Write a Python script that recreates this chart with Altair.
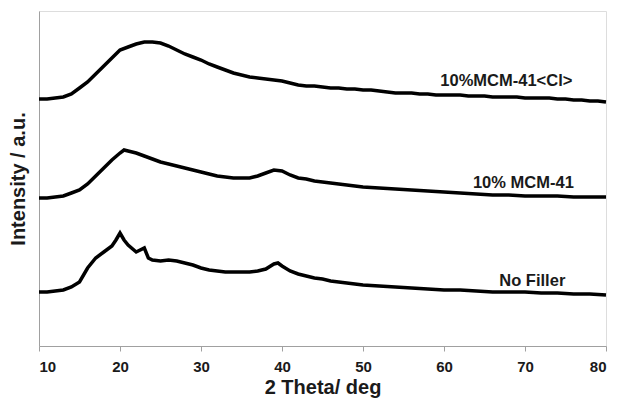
import altair as alt
import pandas as pd

# 10%MCM-41<Cl>
top_x = list(range(10, 81))
top_y = [247, 247, 248, 249, 252, 258, 264, 272, 280, 288, 296, 299, 302, 304, 304, 303, 300, 296, 292, 289,
         286, 282, 279, 276, 273, 271, 269, 268, 267, 266, 265, 263, 261, 260, 260, 259, 258, 258, 257, 257,
         256, 256, 255, 254, 253, 253, 253, 252, 252, 251, 251, 251, 251, 250, 250, 250, 249, 249, 249, 249,
         248, 248, 248, 248, 247, 247, 246, 246, 245, 245, 244]

# 10% MCM-41
mid_x = [10, 11, 12, 13, 14, 15, 16, 17, 18, 19, 20, 20.5, 21, 22, 23, 24, 25, 26, 27, 28, 29, 30, 31, 32, 33,
         34, 35, 36, 37, 38, 39, 40, 41, 42, 43, 44, 45, 46, 47, 48, 49, 50, 52, 54, 56, 58, 60, 62, 64, 66,
         68, 70, 72, 74, 76, 78, 80]
mid_y = [148, 148, 149, 150, 153, 156, 162, 170, 178, 186, 193, 196, 195, 193, 190, 187, 184, 182, 180, 178,
         176, 174, 172, 170, 169, 168, 168, 168, 170, 173, 176, 175, 171, 168, 167, 165, 164, 163, 162, 161,
         160, 159, 158, 157, 156, 155, 154, 153, 152, 151, 151, 150, 150, 150, 149, 149, 149]

# No Filler
bot_x = [10, 11, 12, 13, 14, 15, 16, 17, 18, 19, 19.5, 20, 20.5, 21, 22, 23, 23.5, 24, 25, 26, 27, 28, 29, 30,
         31, 32, 33, 34, 35, 36, 37, 38, 39, 39.5, 40, 41, 42, 43, 44, 45, 46, 47, 48, 49, 50, 52, 54, 56, 58,
         60, 62, 64, 66, 68, 70, 72, 74, 76, 78, 80]
bot_y = [54, 54, 55, 56, 59, 64, 78, 88, 94, 100, 106, 113, 106, 101, 94, 98, 88, 86, 85, 86, 85, 83, 81, 78,
         76, 75, 74, 74, 74, 74, 75, 77, 82, 83, 80, 75, 72, 70, 68, 67, 65, 64, 63, 62, 61, 60, 59, 58, 57,
         56, 56, 55, 54, 54, 54, 53, 53, 52, 52, 51]

series_names = ["10%MCM-41<Cl>", "10% MCM-41", "No Filler"]
label_x = [67.7, 69.8, 70.9]
label_y = [265, 163, 65]

rows = []
for name, xs, ys in zip(series_names, [top_x, mid_x, bot_x], [top_y, mid_y, bot_y]):
    for a, b in zip(xs, ys):
        rows.append({"series": name, "theta": a, "intensity": b})
df = pd.DataFrame(rows)
labels = pd.DataFrame({"series": series_names, "theta": label_x, "intensity": label_y})

FONT = "Liberation Sans"

xenc = alt.X("theta:Q", scale=alt.Scale(domain=[10, 80], nice=False),
             axis=alt.Axis(title="2 Theta/ deg", values=list(range(10, 81, 10)), grid=False,
                           tickSize=5, tickColor="#a0a0a0", domainColor="#a0a0a0",
                           labelFont=FONT, labelFontSize=15, labelFontWeight="bold", labelColor="#1a1a1a",
                           labelPadding=8, titleFont=FONT, titleFontSize=20, titleFontWeight="bold",
                           titleColor="#1a1a1a", titlePadding=3))
yenc = alt.Y("intensity:Q", scale=alt.Scale(domain=[0, 335], nice=False),
             axis=alt.Axis(title="Intensity / a.u.", labels=False, ticks=False, grid=False,
                           domainColor="#a0a0a0", titleFont=FONT, titleFontSize=20,
                           titleFontWeight="bold", titleColor="#1a1a1a", titlePadding=11))

lines = alt.Chart(df).mark_line(color="black", strokeWidth=3.5).encode(
    x=xenc, y=yenc, detail="series:N")

text = alt.Chart(labels).mark_text(font=FONT, fontSize=16.5, fontWeight="bold", color="#1a1a1a",
                                   baseline="middle", align="center").encode(
    x="theta:Q", y="intensity:Q", text="series:N")

chart = (lines + text).properties(
    width=567, height=335,
    autosize=alt.AutoSizeParams(type="none"),
    padding={"left": 31, "top": 3, "right": 8, "bottom": 52},
).configure_view(stroke="#c8c8c8", strokeWidth=1.5).configure(background="white")

chart.save("out.html", embed_options={"renderer": "svg", "actions": False})
